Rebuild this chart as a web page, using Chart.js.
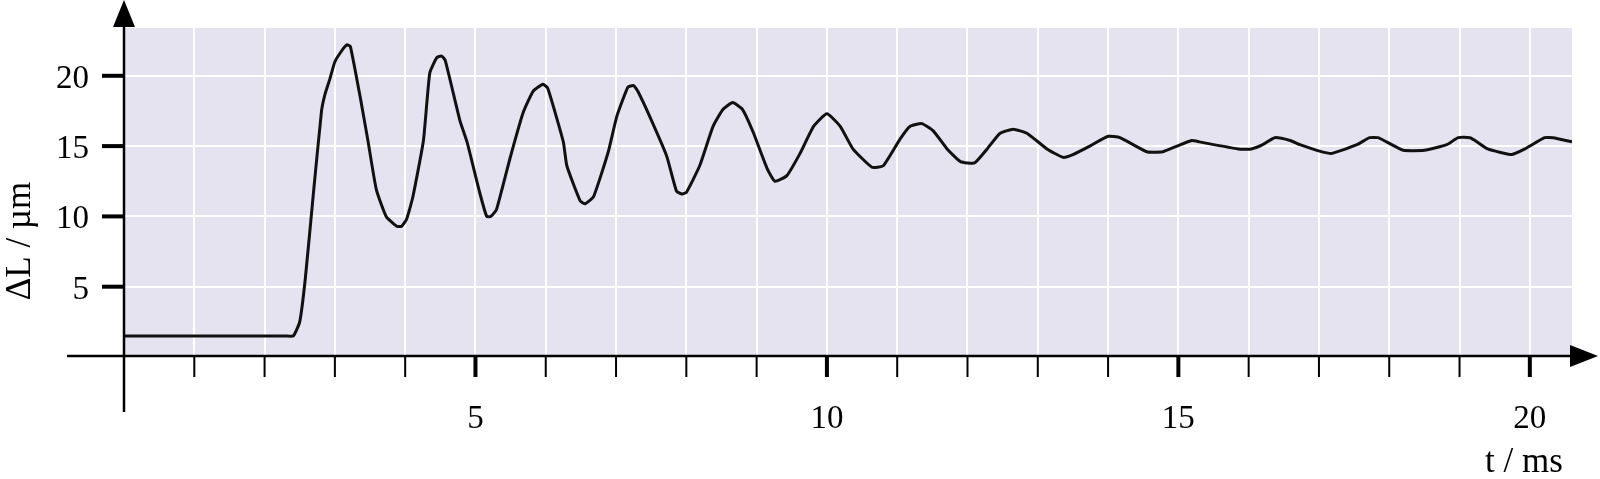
<!DOCTYPE html>
<html>
<head>
<meta charset="utf-8">
<script src="https://cdn.jsdelivr.net/npm/chart.js@4"></script>
<style>
  html, body { margin: 0; padding: 0; background: #fff; }
  #wrap { width: 1600px; height: 479px; }
</style>
</head>
<body>
<div id="wrap"><canvas id="chart" width="1600" height="479"></canvas></div>
<script>
// time in ms, length change in µm
const timeMs = [0, 2.3, 2.41, 2.5, 2.58, 2.69, 2.81, 2.86, 2.93, 3.0, 3.1, 3.17, 3.22, 3.36, 3.47, 3.59, 3.73, 3.88, 3.95, 4.02, 4.11,
  4.26, 4.35, 4.45, 4.52, 4.57, 4.78, 4.88, 5.06, 5.16, 5.22, 5.3, 5.49, 5.68, 5.82, 5.96, 6.03, 6.25, 6.3, 6.49, 6.56,
  6.68, 6.89, 7.01, 7.17, 7.25, 7.31, 7.48, 7.72, 7.86, 7.94, 8.0, 8.19, 8.38, 8.52, 8.66, 8.8, 8.95, 9.15, 9.26, 9.43,
  9.62, 9.81, 10.0, 10.19, 10.37, 10.64, 10.8, 11.04, 11.18, 11.35, 11.51, 11.71, 11.9, 12.1, 12.28, 12.46, 12.65, 12.85, 13.13, 13.36,
  13.5, 13.74, 14.0, 14.17, 14.55, 14.78, 14.98, 15.19, 15.3, 15.85, 16.04, 16.2, 16.37, 16.59, 16.73, 16.97, 17.13, 17.2, 17.54, 17.72,
  17.84, 17.96, 18.2, 18.5, 18.82, 18.98, 19.15, 19.22, 19.4, 19.74, 19.93, 20.21, 20.33, 20.6];
const deltaL = [1.5, 1.5, 1.5, 2.5, 5.6, 11.4, 17.5, 18.7, 19.8, 21.0, 21.8, 22.2, 22.1, 18.5, 15.4, 11.9, 10.0, 9.3, 9.3, 9.8, 11.4,
  15.4, 20.2, 21.3, 21.4, 21.1, 16.8, 15.3, 11.7, 10.0, 10.0, 10.5, 14.1, 17.4, 18.9, 19.4, 19.1, 15.3, 13.6, 11.1, 10.9,
  11.4, 14.6, 17.1, 19.2, 19.3, 18.9, 17.1, 14.3, 11.8, 11.6, 11.7, 13.6, 16.4, 17.6, 18.1, 17.6, 16.0, 13.4, 12.5, 12.9,
  14.5, 16.4, 17.3, 16.4, 14.8, 13.5, 13.6, 15.5, 16.4, 16.6, 16.1, 14.8, 13.9, 13.8, 14.8, 15.9, 16.2, 15.9, 14.8, 14.2,
  14.4, 15.0, 15.7, 15.6, 14.6, 14.6, 15.0, 15.4, 15.3, 14.8, 14.8, 15.1, 15.6, 15.4, 15.1, 14.7, 14.5, 14.5, 15.1, 15.6,
  15.6, 15.3, 14.7, 14.7, 15.1, 15.6, 15.6, 15.4, 14.8, 14.4, 14.8, 15.6, 15.6, 15.3];

const xTickLabels = [5, 10, 15, 20];
const yTickLabels = [5, 10, 15, 20];
const xTitle = 't / ms';
const yTitle = 'ΔL / µm';

const FONT = '"Liberation Serif", "Times New Roman", serif';

const axesPlugin = {
  id: 'axesPlugin',
  beforeDraw(chart) {
    const { ctx, chartArea: a } = chart;
    ctx.save();
    ctx.fillStyle = '#e5e3ef';
    ctx.fillRect(a.left, a.top, a.right - a.left, a.bottom - a.top);
    ctx.restore();
  },
  afterDraw(chart) {
    const { ctx } = chart;
    const xs = chart.scales.x, ys = chart.scales.y;
    const x0 = xs.getPixelForValue(0);
    const y0 = ys.getPixelForValue(0) - 1;

    ctx.save();
    ctx.strokeStyle = '#000';
    ctx.fillStyle = '#000';

    // x axis + arrow
    ctx.lineWidth = 2.5;
    ctx.beginPath();
    ctx.moveTo(67, y0);
    ctx.lineTo(1575, y0);
    ctx.stroke();
    ctx.beginPath();
    ctx.moveTo(1598, y0);
    ctx.lineTo(1570, y0 - 11);
    ctx.lineTo(1570, y0 + 11);
    ctx.closePath();
    ctx.fill();

    // y axis + arrow
    ctx.beginPath();
    ctx.moveTo(x0, 412);
    ctx.lineTo(x0, 24);
    ctx.stroke();
    ctx.beginPath();
    ctx.moveTo(x0, 0);
    ctx.lineTo(x0 - 11, 27);
    ctx.lineTo(x0 + 11, 27);
    ctx.closePath();
    ctx.fill();

    // x ticks, every ms, thicker at labelled ones
    for (let t = 1; t <= 20; t++) {
      const px = xs.getPixelForValue(t);
      ctx.lineWidth = xTickLabels.includes(t) ? 4 : 2;
      ctx.beginPath();
      ctx.moveTo(px, y0);
      ctx.lineTo(px, y0 + 21);
      ctx.stroke();
    }
    // y ticks
    ctx.lineWidth = 4;
    yTickLabels.forEach(v => {
      const py = ys.getPixelForValue(v);
      ctx.beginPath();
      ctx.moveTo(102, py);
      ctx.lineTo(x0, py);
      ctx.stroke();
    });

    // labels
    ctx.font = '33px ' + FONT;
    ctx.textBaseline = 'alphabetic';
    ctx.textAlign = 'center';
    xTickLabels.forEach(t => {
      ctx.fillText(String(t), xs.getPixelForValue(t), 428);
    });
    ctx.textAlign = 'right';
    yTickLabels.forEach(v => {
      ctx.fillText(String(v), 89, ys.getPixelForValue(v) + 12);
    });

    ctx.font = '35px ' + FONT;
    ctx.textAlign = 'center';
    ctx.fillText(xTitle, 1524, 472);

    ctx.translate(30, 241);
    ctx.rotate(-Math.PI / 2);
    ctx.fillText(yTitle, 0, 0);
    ctx.restore();
  }
};

window.addEventListener('DOMContentLoaded', () => {
  const ctx = document.getElementById('chart').getContext('2d');
  new Chart(ctx, {
    type: 'line',
    data: {
      datasets: [{
        label: 'ΔL',
        data: timeMs.map((t, i) => ({ x: t, y: deltaL[i] })),
        borderColor: '#111',
        borderWidth: 3,
        pointRadius: 0,
        fill: false,
        tension: 0.15
      }]
    },
    options: {
      responsive: false,
      animation: false,
      devicePixelRatio: 1,
      layout: { padding: { top: 28, right: 28, left: 0, bottom: 0 } },
      plugins: { legend: { display: false }, tooltip: { enabled: false } },
      scales: {
        x: {
          type: 'linear',
          min: 0,
          max: 20.6,
          afterFit: s => { s.height = 122; },
          border: { display: false },
          grid: { color: '#ffffff', lineWidth: 2, drawTicks: false },
          ticks: { display: false, stepSize: 1, includeBounds: false }
        },
        y: {
          min: 0,
          max: 23.4,
          afterFit: s => { s.width = 124; },
          border: { display: false },
          grid: { color: '#ffffff', lineWidth: 2, drawTicks: false },
          ticks: { display: false, stepSize: 5, includeBounds: false }
        }
      }
    },
    plugins: [axesPlugin]
  });
});
</script>
</body>
</html>
